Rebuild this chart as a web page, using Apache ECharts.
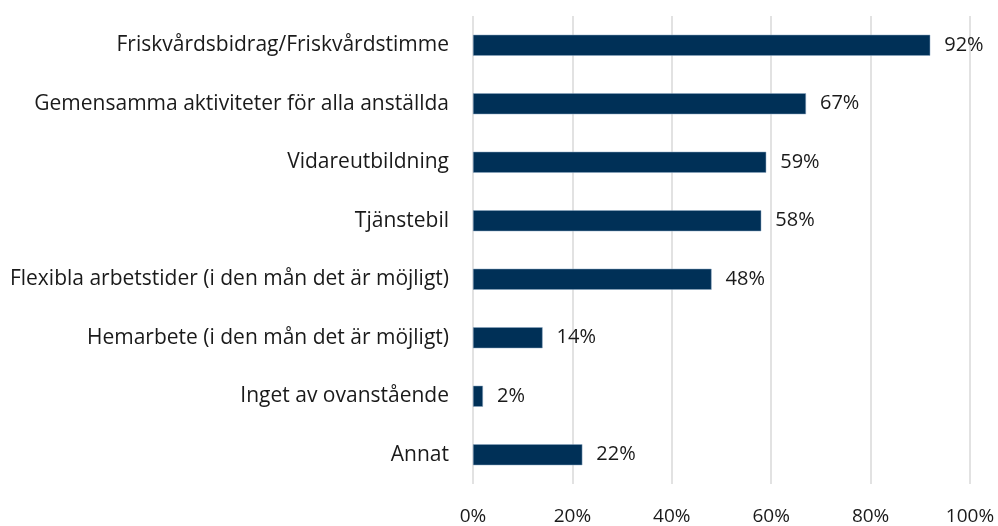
<!DOCTYPE html>
<html>
<head>
<meta charset="utf-8">
<script src="https://cdn.jsdelivr.net/npm/echarts@6/dist/echarts.min.js"></script>
<style>
  html, body { margin: 0; padding: 0; background: #ffffff; }
  #chart { width: 998px; height: 526px; }
</style>
</head>
<body>
<div id="chart"></div>
<script>
// Förmåner som erbjuds (andel svarande, %)
const categories = [
  'Friskvårdsbidrag/Friskvårdstimme',
  'Gemensamma aktiviteter för alla anställda',
  'Vidareutbildning',
  'Tjänstebil',
  'Flexibla arbetstider (i den mån det är möjligt)',
  'Hemarbete (i den mån det är möjligt)',
  'Inget av ovanstående',
  'Annat'
];
const values = [92, 67, 59, 58, 48, 14, 2, 22];
const xTicks = [0, 20, 40, 60, 80, 100];

const fontFamily = '"Open Sans", Lato, sans-serif';
const textColor = '#1a1a1a';

const chart = echarts.init(document.getElementById('chart'), null, { renderer: 'canvas' });
chart.setOption({
  animation: false,
  grid: { left: 473, right: 28, top: 16, bottom: 41, containLabel: false },
  xAxis: {
    type: 'value',
    min: xTicks[0],
    max: xTicks[xTicks.length - 1],
    interval: xTicks[1] - xTicks[0],
    axisLine: { show: false },
    axisTick: { show: false },
    splitLine: { show: true, lineStyle: { color: '#d9d9d9', width: 1.5 } },
    axisLabel: {
      formatter: v => v + '%',
      color: textColor, fontSize: 19, fontFamily, margin: 23
    }
  },
  yAxis: {
    type: 'category',
    data: categories,
    inverse: true,
    axisLine: { show: false },
    axisTick: { show: false },
    axisLabel: { color: textColor, fontSize: 21, fontFamily, margin: 24 }
  },
  series: [{
    type: 'bar',
    data: values,
    barWidth: 21,
    itemStyle: { color: '#003057', borderColor: '#8aa6c2', borderWidth: 0.5 },
    label: {
      show: true,
      position: 'right',
      distance: 14,
      formatter: p => p.value + '%',
      color: textColor, fontSize: 20, fontFamily
    }
  }]
});
</script>
</body>
</html>
